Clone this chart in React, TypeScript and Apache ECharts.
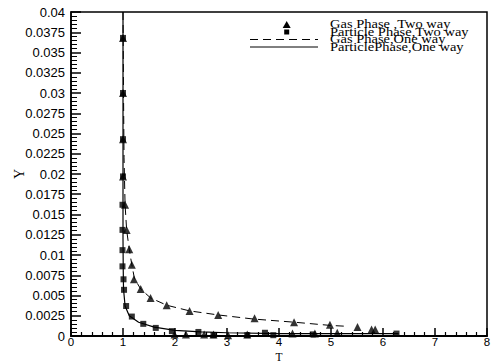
import React, { useEffect, useRef } from "react";
import * as echarts from "echarts";

const seriesNames = [
  "Gas Phase ,Two way",
  "Particle Phase,Two way",
  "Gas Phase,One way",
  "ParticlePhase,One way",
];

const gasTwoWay: number[][] = [
  [1.0, 0.0368], [1.0, 0.03], [1.0, 0.0243], [1.0, 0.0197], [1.04, 0.0162],
  [1.07, 0.0131], [1.12, 0.0107], [1.17, 0.0088], [1.21, 0.007], [1.34, 0.0058],
  [1.53, 0.0047], [1.84, 0.0038], [2.28, 0.0031], [2.83, 0.0026], [3.53, 0.0022],
  [4.29, 0.0017], [4.98, 0.0014], [5.51, 0.0011], [5.78, 0.0008], [5.85, 0.0008],
  [1.99, 0.0002], [2.21, 0.0002], [2.56, 0.0002], [2.74, 0.0002], [3.02, 0.0001],
  [3.39, 0.0002], [4.26, 0.0003], [4.69, 0.0003], [5.12, 0.0004],
];

const particleTwoWay: number[][] = [
  [1.0, 0.0368], [1.0, 0.03], [1.0, 0.0243], [1.0, 0.0197], [0.99, 0.0162],
  [0.99, 0.0131], [0.99, 0.0106], [0.99, 0.0086], [1.01, 0.007], [1.02, 0.0057],
  [1.06, 0.0037], [1.17, 0.0024], [1.39, 0.0015], [1.63, 0.001], [1.94, 0.0006],
  [2.45, 0.0005], [2.74, 0.0001], [3.39, 0.0001], [3.73, 0.0004], [3.89, 0.0001],
  [4.65, 0.0002], [6.26, 0.0003],
];

const gasOneWay: number[][] = [
  [1.0, 0.04], [1.01, 0.03], [1.02, 0.022], [1.04, 0.0162], [1.07, 0.0131],
  [1.12, 0.0107], [1.17, 0.0088], [1.22, 0.0071], [1.34, 0.0058], [1.53, 0.0047],
  [1.84, 0.0038], [2.28, 0.0031], [2.83, 0.0026], [3.5, 0.0021], [4.3, 0.0017],
  [5.0, 0.0013], [5.3, 0.0012],
];

const particleOneWay: number[][] = [
  [1.0, 0.04], [1.0, 0.012], [1.005, 0.008], [1.01, 0.0058], [1.04, 0.0037],
  [1.12, 0.0025], [1.3, 0.0017], [1.6, 0.0011], [2.0, 0.0007], [2.5, 0.0005],
  [3.0, 0.0004], [4.0, 0.0003], [5.0, 0.0003], [6.3, 0.0003],
];

const xRange = [0, 8, 1];
const yRange = [0, 0.04, 0.0025];

export default function App() {
  const ref = useRef<HTMLDivElement>(null);
  useEffect(() => {
    if (!ref.current) return;
    const chart = echarts.init(ref.current, null, { renderer: "svg" });
    const serif = "Liberation Serif";
    const sans = "Liberation Sans";
    const legendTextX = 330;
    const rows = [24.5, 32, 39.5, 47];
    const option: any = {
      animation: false,
      backgroundColor: "#fff",
      grid: {
        left: 71, right: 5, top: 12, bottom: 27,
        outerBoundsMode: "none",
        containLabel: false,
        show: true, borderColor: "#000", borderWidth: 1.5,
      },
      xAxis: {
        type: "value",
        min: xRange[0], max: xRange[1], interval: xRange[2],
        name: "T", nameLocation: "middle", nameGap: 26.5, nameMoveOverlap: false,
        nameTextStyle: {
          fontFamily: serif, fontSize: 11.5, lineHeight: 11.5, color: "#000", verticalAlign: "bottom",
        },
        axisLine: { show: true, lineStyle: { color: "#000", width: 2 } },
        axisTick: { show: true, inside: true, length: 8, lineStyle: { color: "#000", width: 1.5 } },
        minorTick: { show: true, splitNumber: 5, length: 4, lineStyle: { color: "#000", width: 1.2 } },
        splitLine: { show: false },
        axisLabel: { fontFamily: sans, fontSize: 11.5, lineHeight: 11.5, color: "#000", margin: 0 },
      },
      yAxis: {
        type: "value",
        min: yRange[0], max: yRange[1], interval: yRange[2],
        name: "Y", nameLocation: "middle", nameGap: 45, nameRotate: 90, nameMoveOverlap: false,
        nameTextStyle: { fontFamily: serif, fontSize: 14, color: "#000" },
        axisLine: { show: true, lineStyle: { color: "#000", width: 1.5 } },
        axisTick: { show: true, inside: true, length: 10, lineStyle: { color: "#000", width: 1.5 } },
        minorTick: { show: true, splitNumber: 5, length: 6, lineStyle: { color: "#000", width: 1 } },
        splitLine: { show: false },
        axisLabel: {
          fontFamily: sans, fontSize: 13, color: "#000", margin: 6,
          formatter: (v: number) => parseFloat(v.toFixed(4)).toString(),
        },
      },
      series: [
        {
          name: seriesNames[0], type: "scatter", data: gasTwoWay,
          symbol: "triangle", symbolSize: 8, itemStyle: { color: "#000" }, z: 4,
        },
        {
          name: seriesNames[1], type: "scatter", data: particleTwoWay,
          symbol: "rect", symbolSize: 6, itemStyle: { color: "#000" }, z: 3,
        },
        {
          name: seriesNames[2], type: "line", data: gasOneWay, showSymbol: false, symbol: "none",
          lineStyle: { color: "#000", width: 1, type: [8, 5] }, z: 2,
        },
        {
          name: seriesNames[3], type: "line", data: particleOneWay, showSymbol: false, symbol: "none",
          lineStyle: { color: "#000", width: 1.2 }, z: 2,
        },
      ],
      graphic: [
        {
          type: "group",
          children: [
            {
              type: "polygon",
              shape: { points: [[282.7, 28], [290.7, 28], [286.7, 21]] },
              style: { fill: "#000" },
            },
            {
              type: "rect",
              shape: { x: 284.2, y: 29.5, width: 5, height: 5 },
              style: { fill: "#000" },
            },
            {
              type: "line",
              shape: { x1: 250, y1: rows[2], x2: 318, y2: rows[2] },
              style: { stroke: "#000", lineWidth: 1, lineDash: [8, 5] },
            },
            {
              type: "line",
              shape: { x1: 250, y1: rows[3], x2: 318, y2: rows[3] },
              style: { stroke: "#000", lineWidth: 1 },
            },
            ...seriesNames.map((n, i) => ({
              type: "text",
              x: legendTextX,
              y: rows[i],
              scaleX: 1.26,
              style: {
                text: n,
                fill: "#000",
                fontFamily: serif,
                fontSize: 11.5,
                verticalAlign: "middle",
                align: "left",
              },
            })),
          ],
        },
      ],
    };
    chart.setOption(option);
    return () => chart.dispose();
  }, []);
  return (
    <div
      ref={ref}
      style={{ position: "fixed", left: 0, top: 0, width: 492, height: 363, background: "#fff" }}
    />
  );
}
